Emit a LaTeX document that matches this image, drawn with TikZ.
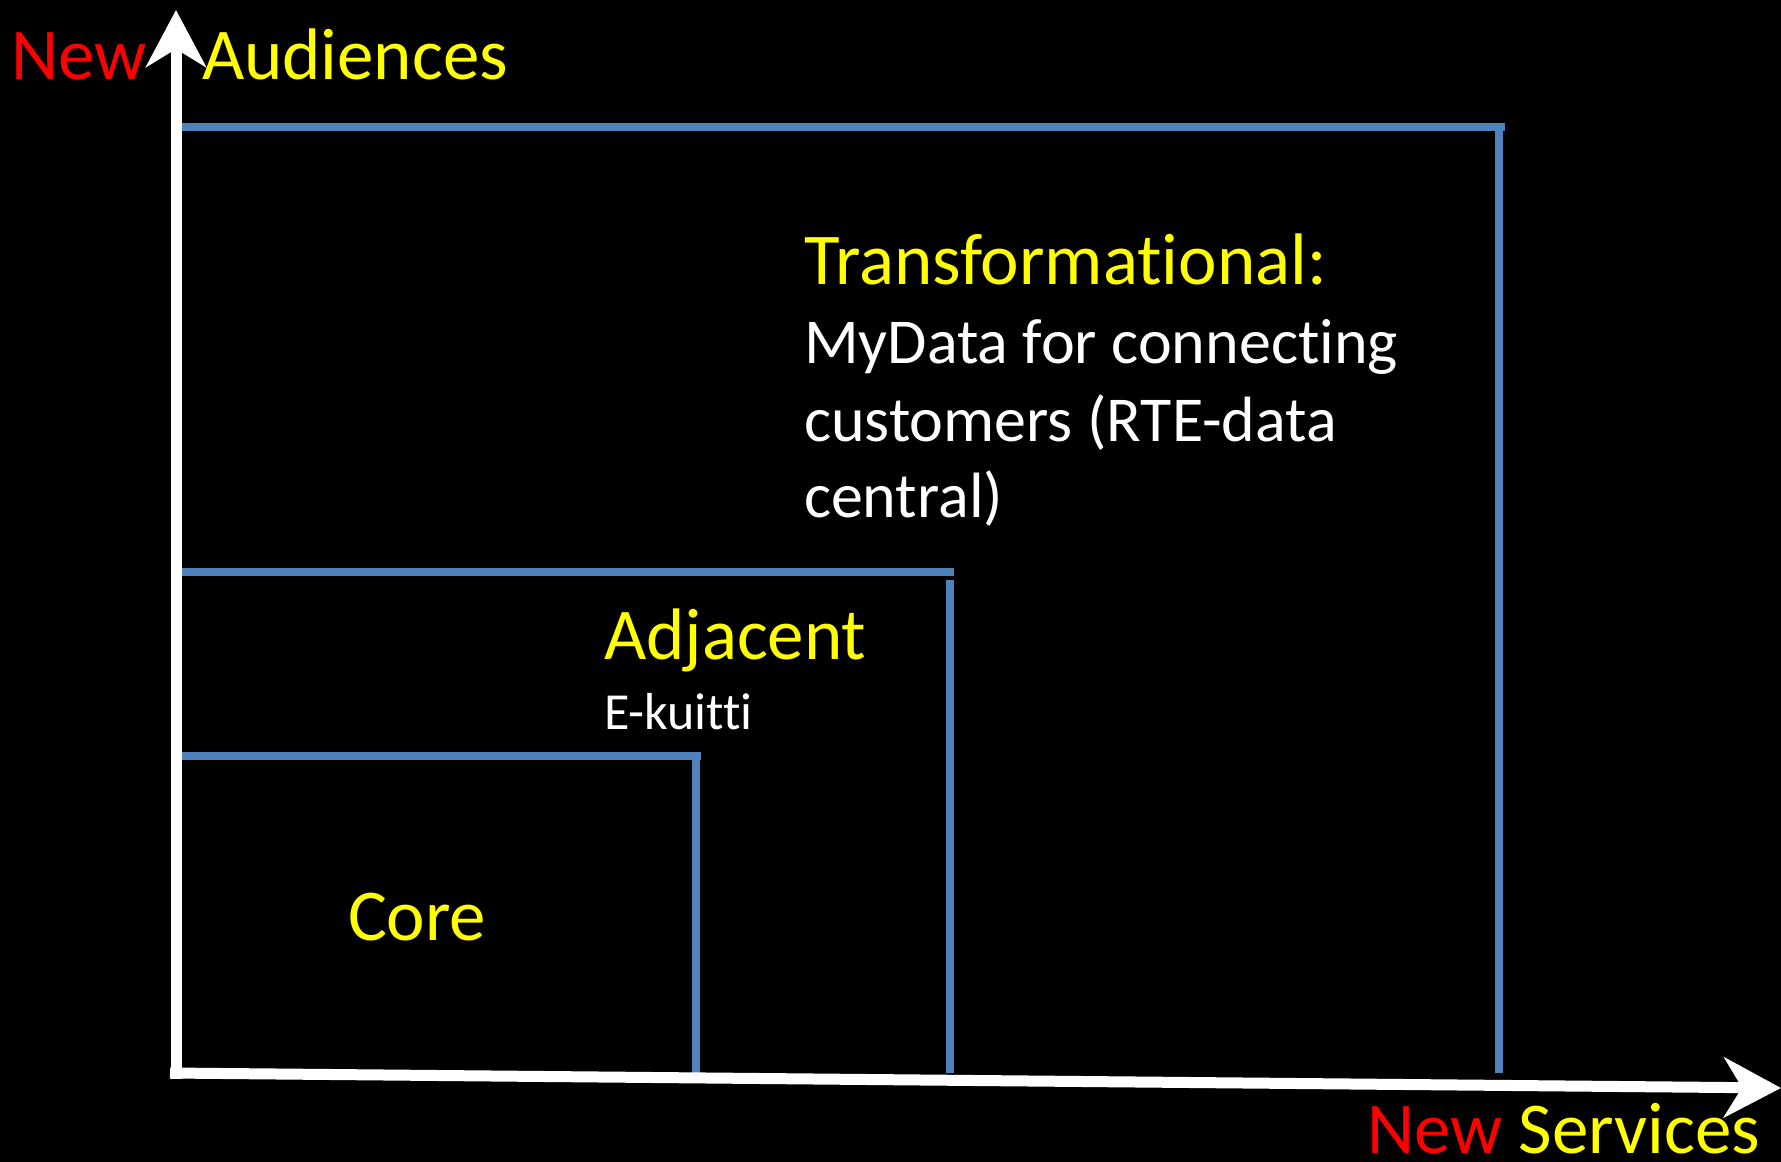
\documentclass[tikz,border=0pt]{standalone}
\usepackage{fontspec}
\setmainfont{Carlito}[Ligatures={NoCommon,NoRare,NoContextual}]
\usetikzlibrary{arrows.meta}
\definecolor{ofblue}{HTML}{4F81BD}
\definecolor{ofred}{HTML}{FF0000}
\definecolor{ofyellow}{HTML}{FFFF00}
\tikzset{
  axis/.style={draw=white, line width=11pt, -{Stealth[length=57pt, width=60pt, inset=18pt, fill=white]}},
  zone/.style={draw=ofblue, line width=8pt},
  lbl/.style={anchor=base west, inner sep=0pt, outer sep=0pt},
  big/.style={lbl, font=\fontsize{73}{88}\selectfont},
  mid/.style={lbl, font=\fontsize{64}{77}\selectfont, text=white},
  small/.style={lbl, font=\fontsize{52}{62}\selectfont, text=white}
}
\begin{document}
\begin{tikzpicture}[x=1pt, y=-1pt]
\fill[black] (0,0) rectangle (1781,1162);
\useasboundingbox (0,0) rectangle (1781,1162);
% zones
\draw[zone] (182,127) -- (1505,127);
\draw[zone] (1499,127) -- (1499,1073);
\draw[zone] (182,572) -- (954,572);
\draw[zone] (950,580) -- (950,1073);
\draw[zone] (182,756) -- (701,756);
\draw[zone] (696,756) -- (696,1073);
% axes
\coordinate (ybot) at (176,1079);
\coordinate (ytip) at (176,10);
\coordinate (xstart) at (170,1073);
\coordinate (xtip) at (1781,1088);
\draw[axis] (ybot) -- (ytip);
\draw[axis] (xstart) -- (xtip);
% labels
\node[big, text=ofred] (newa) at (11,79) {New};
\node[big, text=ofyellow] (aud) at (202,79) {Audiences};
\node[big] (nserv) at (1367,1153) {\textcolor{ofred}{New} \textcolor{ofyellow}{Services}};
\node[big, text=ofyellow] (trans) at (804,284) {Transformational:};
\node[mid] (t1) at (804,363) {MyData for connecting};
\node[mid] (t2) at (804,441) {customers (RTE-data};
\node[mid] (t3) at (804,517) {central)};
\node[big, text=ofyellow] (adj) at (604,659) {Adjacent};
\node[small] (ek) at (604,729) {E-kuitti};
\node[big, text=ofyellow] (core) at (348,940) {Core};
\end{tikzpicture}
\end{document}
